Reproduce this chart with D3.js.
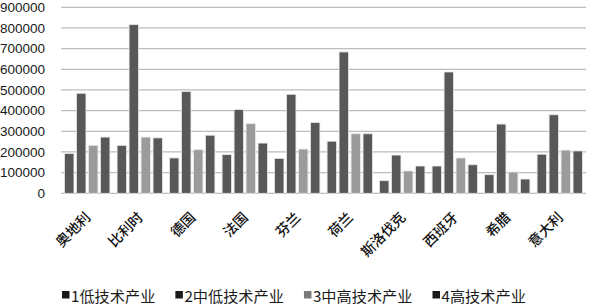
<!DOCTYPE html>
<html>
<head>
<meta charset="utf-8">
<script src="https://cdn.jsdelivr.net/npm/d3@7/dist/d3.min.js"></script>
<style>
  html, body { margin: 0; padding: 0; background: #fff; }
  svg { display: block; }
</style>
</head>
<body>
<svg id="chart" width="592" height="304"></svg>
<script>
const countries = ["奥地利", "比利时", "德国", "法国", "芬兰", "荷兰", "斯洛伐克", "西班牙", "希腊", "意大利"];
const seriesNames = ["1低技术产业", "2中低技术产业", "3中高技术产业", "4高技术产业"];
const lowTech     = [192000, 232000, 171000, 187000, 169000, 252000, 61000, 132000, 90000, 189000];
const midLowTech  = [484000, 816000, 492000, 405000, 479000, 684000, 185000, 587000, 335000, 380000];
const midHighTech = [232000, 272000, 211000, 337000, 214000, 288000, 108000, 171000, 103000, 209000];
const highTech    = [272000, 268000, 281000, 243000, 342000, 288000, 132000, 138000, 69000, 205000];
const yTicks = [0, 100000, 200000, 300000, 400000, 500000, 600000, 700000, 800000, 900000];

(function () {
const series = [lowTech, midLowTech, midHighTech, highTech];
const barColors = ["#585858", "#585858", "#9b9b9b", "#585858"];
const legendColors = ["#1a1a1a", "#1a1a1a", "#7a7a7a", "#1a1a1a"];

const svg = d3.select("#chart");
const pLeft = 61, pRight = 586, pTop = 7.3, pBottom = 193.3;

const y = d3.scaleLinear().domain([0, 900000]).range([pBottom, pTop]);
const x0 = d3.scaleBand().domain(countries).range([pLeft, pRight]).paddingInner(0).paddingOuter(0);
const x1 = d3.scaleBand().domain(d3.range(4)).range([0, x0.bandwidth()]).paddingInner(0.22).paddingOuter(0.3);

// gridlines
svg.append("g").selectAll("line").data(yTicks).join("line")
  .attr("x1", pLeft).attr("x2", pRight)
  .attr("y1", d => y(d)).attr("y2", d => y(d))
  .attr("stroke", "#bdbdbd").attr("stroke-width", 1.3);

// y axis labels
const yAxis = d3.axisLeft(y).tickValues(yTicks).tickFormat(d3.format("d")).tickSize(0).tickPadding(0);
const yg = svg.append("g").attr("transform", `translate(45,0)`).call(yAxis);
yg.select(".domain").remove();
yg.selectAll("text").attr("font-family", "Liberation Sans, Arial, sans-serif")
  .attr("font-size", 13.5).attr("fill", "#1a1a1a");

// bars
const groups = svg.append("g").selectAll("g").data(countries).join("g")
  .attr("transform", d => `translate(${x0(d)},0)`);
groups.selectAll("rect").data((c, i) => series.map((s, k) => ({k, v: s[i]}))).join("rect")
  .attr("x", d => x1(d.k))
  .attr("width", x1.bandwidth())
  .attr("y", d => y(d.v))
  .attr("height", d => pBottom - y(d.v))
  .attr("fill", d => barColors[d.k])
  .attr("stroke", "#e6e6e6").attr("stroke-width", 0.8);

// x labels
svg.append("g").selectAll("text").data(countries).join("text")
  .attr("transform", d => `translate(${x0(d) + x0.bandwidth() / 2},214) rotate(-45)`)
  .attr("text-anchor", "end")
  .attr("dominant-baseline", "central")
  .attr("font-family", "Noto Sans CJK SC, sans-serif")
  .attr("font-weight", 500)
  .attr("font-size", 14)
  .attr("fill", "#111")
  .text(d => d);

// legend
const lg = svg.append("g");
let lx = 62;
seriesNames.forEach((name, i) => {
  lg.append("rect").attr("x", lx).attr("y", 291).attr("width", 7.5).attr("height", 7.5)
    .attr("fill", legendColors[i]);
  const t = lg.append("text").attr("x", lx + 9).attr("y", 294.5)
    .attr("dominant-baseline", "central")
    .attr("font-family", "Noto Sans CJK SC, sans-serif")
    .attr("font-size", 15.2).attr("fill", "#1a1a1a")
    .text(name);
  lx = lx + 9 + t.node().getComputedTextLength() + 20;
});
})();
</script>
</body>
</html>
